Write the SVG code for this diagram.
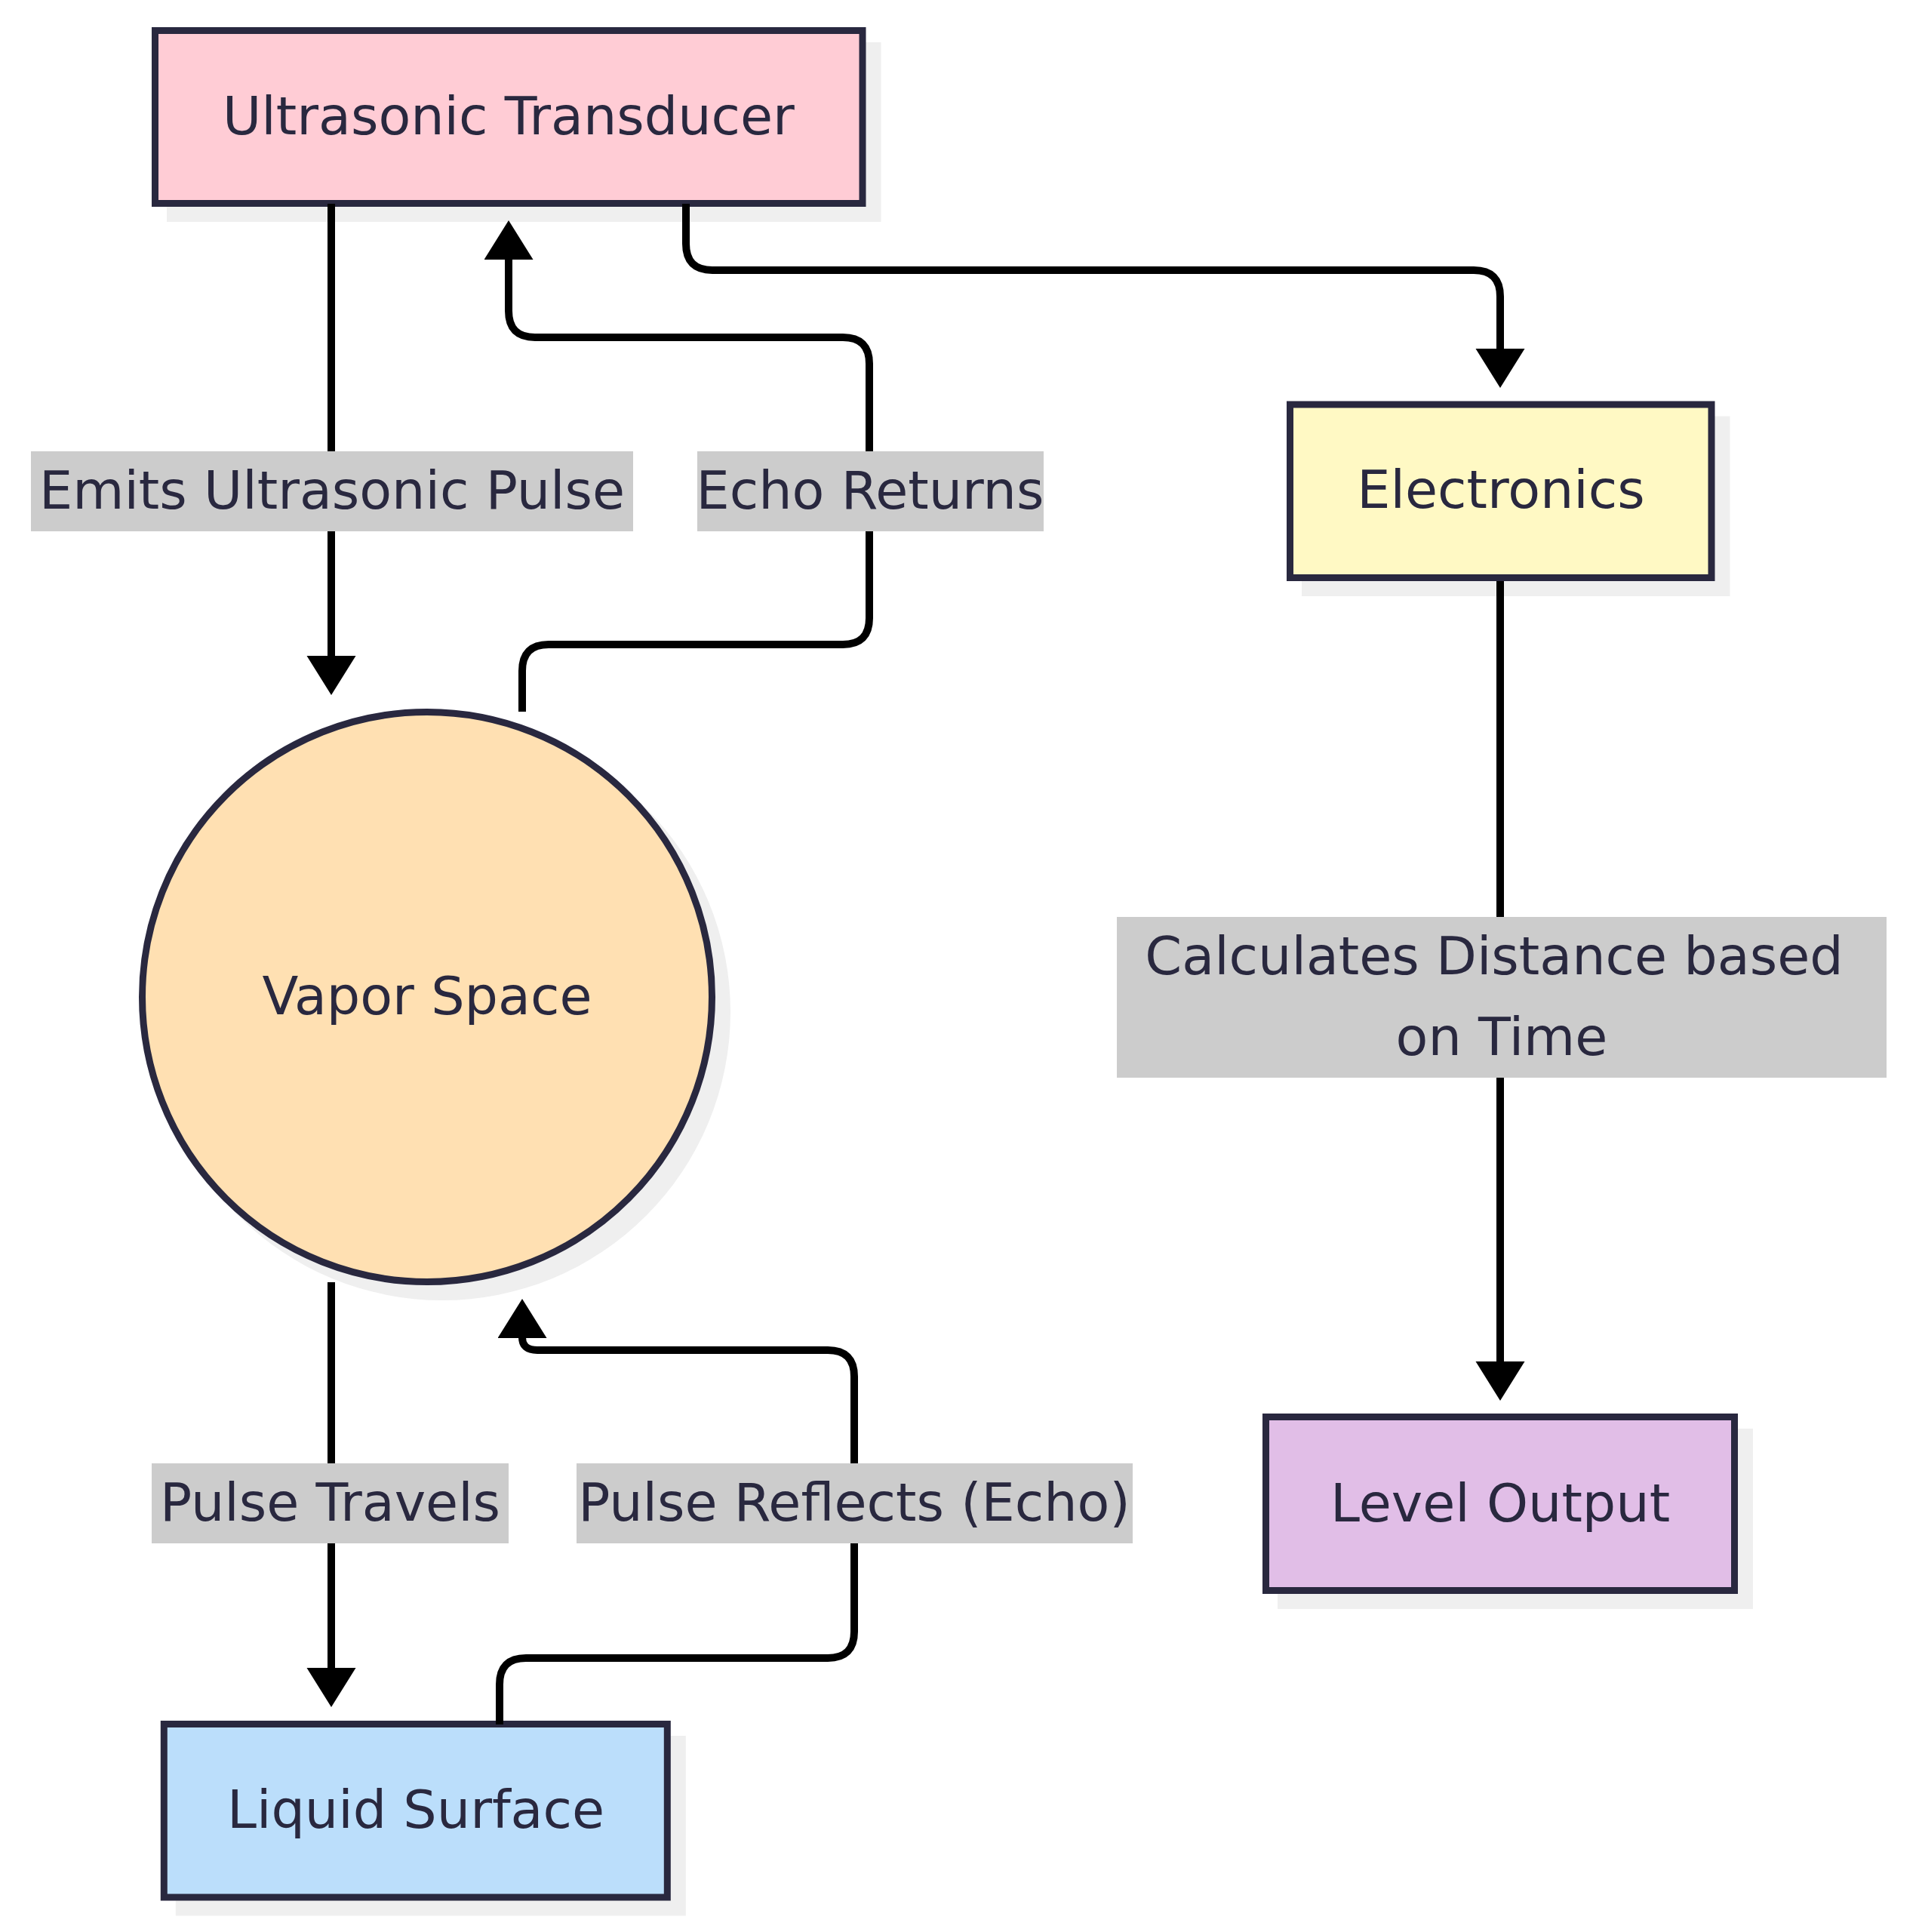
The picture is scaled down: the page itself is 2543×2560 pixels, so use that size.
<svg xmlns="http://www.w3.org/2000/svg" width="2543" height="2560" viewBox="0 0 2543 2560">
<defs>
<style>
.shadow{fill:#efefef;}
.node{stroke:#29283f;stroke-width:9;}
.t{font-family:"DejaVu Sans",sans-serif;font-size:70px;fill:#29283f;text-anchor:middle;}
.edge{fill:none;stroke:#000;stroke-width:10;}
.lbg{fill:#cccccc;}
</style>
<marker id="arr" markerUnits="userSpaceOnUse" markerWidth="60" markerHeight="70" refX="1" refY="32.5" orient="auto">
<path d="M0,0 L52,32.5 L0,65 Z" fill="#000"/>
</marker>
</defs>
<rect width="2543" height="2560" fill="#ffffff"/>

<g id="node-transducer">
<rect class="shadow" x="221" y="56" width="946.5" height="238"/>
<rect class="node" x="205.5" y="40.5" width="937.5" height="229" fill="#ffccd5"/>
<text class="t" x="674" y="178">Ultrasonic Transducer</text>
</g>

<g id="node-electronics">
<rect class="shadow" x="1725" y="551.5" width="567.5" height="238.5"/>
<rect class="node" x="1709.5" y="536" width="558.5" height="229.5" fill="#fff9c4"/>
<text class="t" x="1989" y="673">Electronics</text>
</g>

<g id="node-vapor">
<circle class="shadow" cx="586" cy="1341" r="382"/>
<circle class="node" cx="566" cy="1321" r="377.5" fill="#ffe0b2"/>
<text class="t" x="566" y="1344">Vapor Space</text>
</g>

<g id="node-liquid">
<rect class="shadow" x="232.8" y="2300" width="676" height="238.5"/>
<rect class="node" x="217.3" y="2284.5" width="667" height="229.5" fill="#bbdefb"/>
<text class="t" x="551" y="2422">Liquid Surface</text>
</g>

<g id="node-level">
<rect class="shadow" x="1693" y="1893" width="630" height="239"/>
<rect class="node" x="1677.5" y="1877.5" width="621" height="230" fill="#e1bee7"/>
<text class="t" x="1988" y="2016">Level Output</text>
</g>

<g id="edges">
<path class="edge" d="M439,270 L439,870" marker-end="url(#arr)"/>
<path class="edge" d="M692,943 L692,889 Q692,854 727,854 L1117,854 Q1152,854 1152,819 L1152,482 Q1152,447 1117,447 L709,447 Q674,447 674,412 L674,343" marker-end="url(#arr)"/>
<path class="edge" d="M909,270 L909,323 Q909,358 944,358 L1953,358 Q1988,358 1988,393 L1988,463" marker-end="url(#arr)"/>
<path class="edge" d="M1988,770 L1988,1805" marker-end="url(#arr)"/>
<path class="edge" d="M439,1699 L439,2211" marker-end="url(#arr)"/>
<path class="edge" d="M662,2285 L662,2232 Q662,2197 697,2197 L1097,2197 Q1132,2197 1132,2162 L1132,1824 Q1132,1789 1097,1789 L712,1789 Q692,1789 692,1772" marker-end="url(#arr)"/>
</g>

<g id="edge-labels">
<g id="label-emits">
<rect class="lbg" x="41" y="598" width="798" height="106"/>
<text class="t" x="440" y="674">Emits Ultrasonic Pulse</text>
</g>
<g id="label-echo">
<rect class="lbg" x="924" y="598" width="459" height="106"/>
<text class="t" x="1153" y="674">Echo Returns</text>
</g>
<g id="label-calc">
<rect class="lbg" x="1480" y="1215" width="1020" height="213"/>
<text class="t" x="1980" y="1291">Calculates Distance based</text>
<text class="t" x="1990" y="1398">on Time</text>
</g>
<g id="label-travels">
<rect class="lbg" x="201" y="1939" width="473" height="106"/>
<text class="t" x="437.5" y="2015">Pulse Travels</text>
</g>
<g id="label-reflects">
<rect class="lbg" x="764" y="1939" width="737" height="106"/>
<text class="t" x="1132" y="2015">Pulse Reflects (Echo)</text>
</g>
</g>
</svg>
